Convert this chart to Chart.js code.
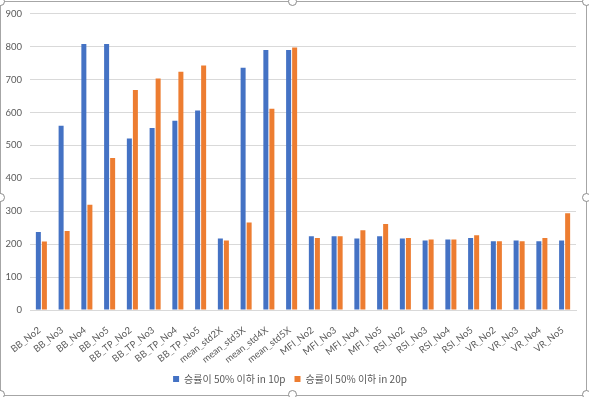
<!DOCTYPE html>
<html>
<head>
<meta charset="utf-8">
<script src="https://cdn.jsdelivr.net/npm/chart.js@4"></script>
<style>
  html, body { margin: 0; padding: 0; background: #fff; }
  #wrap { position: relative; width: 589px; height: 397px; }
  #frame { position: absolute; left: 0; top: 1px; width: 585px; height: 393px;
           border: 1px solid #a6a6a6; pointer-events: none; }
  .h { position: absolute; width: 7px; height: 7px; border-radius: 50%;
       border: 1px solid #8c8c8c; background: #fff; }
</style>
</head>
<body>
<div id="wrap">
  <canvas id="c" width="589" height="397"></canvas>
  <div id="frame"></div>
  <div class="h" style="left:-4px;top:-3px"></div>
  <div class="h" style="left:288px;top:-3px"></div>
  <div class="h" style="left:582px;top:-3px"></div>
  <div class="h" style="left:-4px;top:193px"></div>
  <div class="h" style="left:582px;top:193px"></div>
  <div class="h" style="left:-4px;top:390px"></div>
  <div class="h" style="left:288px;top:390px"></div>
  <div class="h" style="left:582px;top:390px"></div>
</div>
<script>
// categories
const labels = ['BB_No2','BB_No3','BB_No4','BB_No5','BB_TP_No2','BB_TP_No3','BB_TP_No4','BB_TP_No5',
  'mean_std2X','mean_std3X','mean_std4X','mean_std5X',
  'MFI_No2','MFI_No3','MFI_No4','MFI_No5','RSI_No2','RSI_No3','RSI_No4','RSI_No5',
  'VR_No2','VR_No3','VR_No4','VR_No5']

// series
const win10p = [237, 560, 808, 808, 521, 553, 575, 606,
  217, 736, 790, 790,
  224, 224, 217, 224, 217, 211, 214, 219,
  209, 211, 209, 211]
const win20p = [208, 240, 320, 462, 668, 703, 724, 743,
  211, 266, 611, 797,
  219, 224, 242, 261, 219, 214, 214, 227,
  209, 209, 219, 294]

const seriesNames = ['승률이 50% 이하 in 10p', '승률이 50% 이하 in 20p']
const yTicks = [0, 100, 200, 300, 400, 500, 600, 700, 800, 900]

const tickFont = "Lato, 'Noto Sans', sans-serif"
const legendFont = "'Noto Sans CJK KR', 'Noto Sans', sans-serif"

// category labels, slanted like Excel's, placed at the x scale's tick pixels
const slantedLabels = {
  id: 'slantedLabels',
  afterDraw(chart) {
    const {ctx} = chart
    const x = chart.scales.x
    ctx.save()
    ctx.font = '9.5px ' + tickFont
    ctx.fillStyle = '#595959'
    ctx.textAlign = 'right'
    ctx.textBaseline = 'middle'
    labels.forEach((l, i) => {
      ctx.save()
      ctx.translate(x.getPixelForTick(i) - 2, x.top + 19)
      ctx.rotate(-38 * Math.PI / 180)
      ctx.fillText(l, 0, 0)
      ctx.restore()
    })
    ctx.restore()
  }
}

new Chart(document.getElementById('c'), {
  type: 'bar',
  data: {
    labels: labels,
    datasets: [
      { label: seriesNames[0], data: win10p, backgroundColor: '#4472C4' },
      { label: seriesNames[1], data: win20p, backgroundColor: '#ED7D31' }
    ]
  },
  options: {
    responsive: false,
    animation: false,
    devicePixelRatio: 1,
    datasets: { bar: { categoryPercentage: 0.53, barPercentage: 0.83 } },
    layout: { padding: { left: 4, right: 13, top: 4, bottom: 3 } },
    scales: {
      x: {
        grid: { display: false },
        border: { color: '#d9d9d9' },
        ticks: { display: false },
        afterFit: s => { s.height = 55 }
      },
      y: {
        min: 0, max: 900,
        afterBuildTicks: s => { s.ticks = yTicks.map(v => ({ value: v })) },
        grid: { color: '#d9d9d9', drawTicks: false },
        border: { display: false },
        ticks: { color: '#595959', font: { family: tickFont, size: 9.5 }, padding: 8 },
        afterFit: s => { s.width = 26 }
      }
    },
    plugins: {
      legend: {
        position: 'bottom',
        labels: {
          color: '#595959', font: { family: legendFont, size: 10 },
          boxWidth: 6, boxHeight: 6, padding: 9
        }
      },
      tooltip: { enabled: false }
    }
  },
  plugins: [slantedLabels]
})
</script>
</body>
</html>
